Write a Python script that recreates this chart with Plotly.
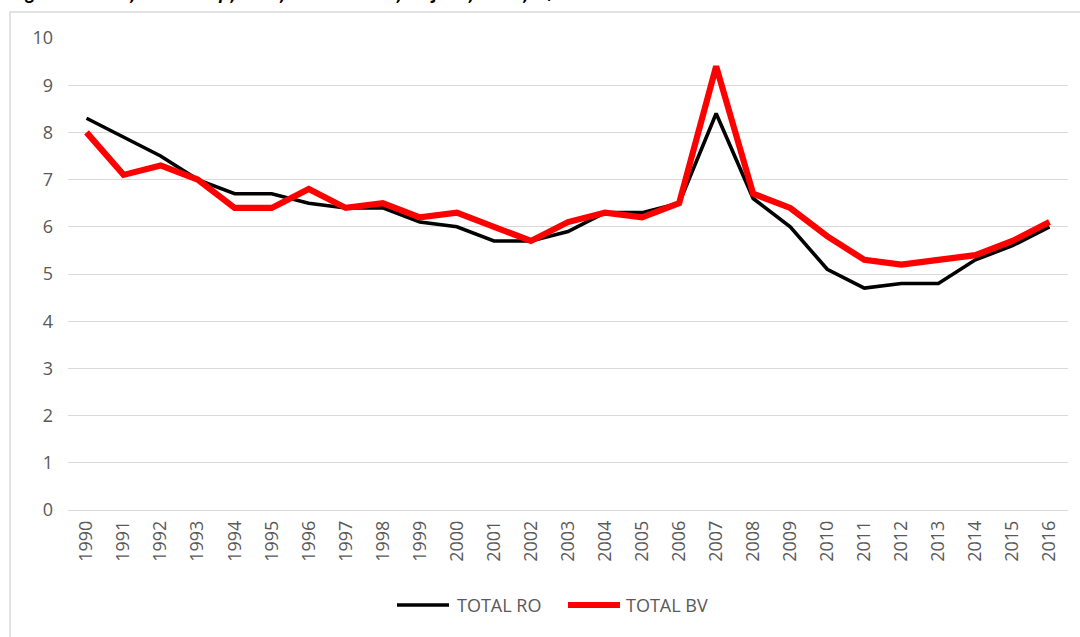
import plotly.graph_objects as go

years = [str(y) for y in range(1990, 2017)]
total_ro = [8.3, 7.9, 7.5, 7.0, 6.7, 6.7, 6.5, 6.4, 6.4, 6.1, 6.0, 5.7, 5.7, 5.9,
            6.3, 6.3, 6.5, 8.4, 6.6, 6.0, 5.1, 4.7, 4.8, 4.8, 5.3, 5.6, 6.0]
total_bv = [8.0, 7.1, 7.3, 7.0, 6.4, 6.4, 6.8, 6.4, 6.5, 6.2, 6.3, 6.0, 5.7, 6.1,
            6.3, 6.2, 6.5, 9.4, 6.7, 6.4, 5.8, 5.3, 5.2, 5.3, 5.4, 5.7, 6.1]
y_ticks = list(range(0, 11))
series_names = ["TOTAL RO", "TOTAL BV"]
series_colors = ["#000000", "#ff0000"]
series_widths = [3.6, 6.2]
title_text = "Figura 5. Evoluția ratei nupțialității în România și în județul Brașov, 1990-2016"

FONT = "Open Sans"
GRAY = "#595959"

fig = go.Figure()
for name, vals, col, wd in zip(series_names, [total_ro, total_bv], series_colors, series_widths):
    fig.add_trace(go.Scatter(x=years, y=vals, mode="lines", name=name,
                             line=dict(color=col, width=wd)))

L, R, T, B = 68, 12, 38, 127
W, H = 1080, 637
pw, ph = W - L - R, H - T - B

def px(x):
    return (x - L) / pw

def py(y):
    return (H - B - y) / ph

# custom legend (longer line samples like the reference)
legend_items = [(397, 449, 455), (568, 620, 624)]
shapes = [dict(type="rect", xref="paper", yref="paper",
               x0=px(10), x1=px(1090), y0=py(660), y1=py(12),
               line=dict(color="#d9d9d9", width=1.5), fillcolor="rgba(0,0,0,0)",
               layer="below")]
annotations = [dict(text="<b><i>" + title_text + "</i></b>", xref="paper", yref="paper",
                    x=px(10), y=py(6.5), xanchor="left", yanchor="bottom",
                    showarrow=False, font=dict(family=FONT, size=17, color="#000000"))]
for (x0, x1, xt), name, col, wd in zip(legend_items, series_names, series_colors, series_widths):
    shapes.append(dict(type="line", xref="paper", yref="paper",
                       x0=px(x0), x1=px(x1), y0=py(605), y1=py(605),
                       line=dict(color=col, width=wd)))
    annotations.append(dict(text=name, xref="paper", yref="paper", x=px(xt), y=py(605),
                            xanchor="left", yanchor="middle", showarrow=False,
                            font=dict(family=FONT, size=18, color=GRAY)))

fig.update_layout(
    width=W, height=H,
    margin=dict(l=L, r=R, t=T, b=B),
    paper_bgcolor="white", plot_bgcolor="white",
    font=dict(family=FONT, size=18, color=GRAY),
    showlegend=False,
    xaxis=dict(type="category", tickangle=-90, showgrid=False, showline=False,
               ticks="", tickfont=dict(family=FONT, size=18, color=GRAY),
               ticklabelstandoff=6, range=[-0.5, len(years) - 0.5]),
    yaxis=dict(range=[0, 10], tickvals=y_ticks, showgrid=True, gridcolor="#d9d9d9",
               gridwidth=1, zeroline=True, zerolinecolor="#d9d9d9", zerolinewidth=1,
               showline=False, ticks="", tickfont=dict(family=FONT, size=18, color=GRAY),
               ticklabelstandoff=14),
    shapes=shapes,
    annotations=annotations,
)

fig.write_html("out.html", config={"displayModeBar": False},
               post_script="document.body.style.margin='0';document.body.style.overflow='hidden';")
